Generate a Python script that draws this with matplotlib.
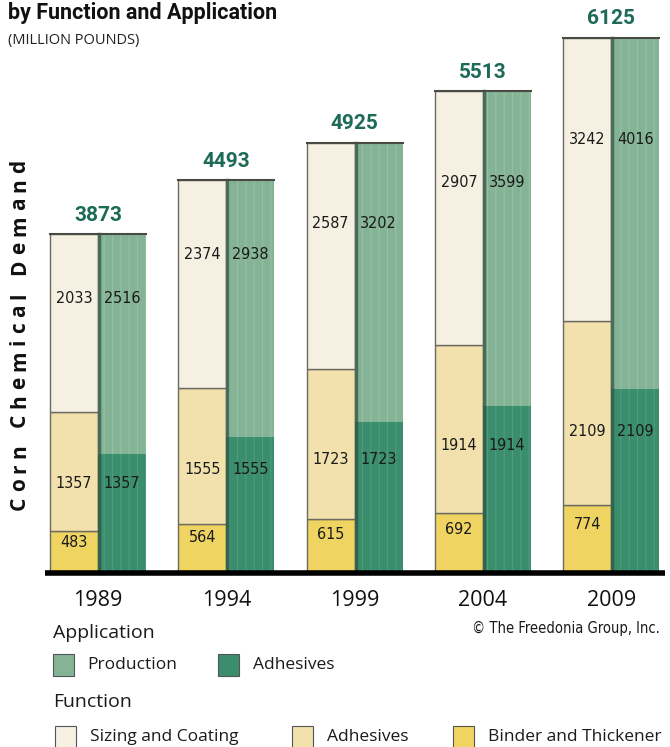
import matplotlib
matplotlib.use('Agg')
import matplotlib.pyplot as plt
from matplotlib.patches import Rectangle
import numpy as np

# datos (millones de libras)
years = ['1989', '1994', '1999', '2004', '2009']
totals = [3873, 4493, 4925, 5513, 6125]

# funcion (barra izquierda)
binder = [483, 564, 615, 692, 774]
fn_adhesives = [1357, 1555, 1723, 1914, 2109]
sizing = [2033, 2374, 2587, 2907, 3242]

# aplicacion (barra derecha)
app_adhesives = [1357, 1555, 1723, 1914, 2109]
production = [2516, 2938, 3202, 3599, 4016]

# colores
c_sizing = '#f5f0e1'
c_fn_adh = '#f2e1ad'
c_binder = '#efd462'
c_prod = '#84b395'
c_app_adh = '#3b8e6d'
c_total = '#1d6b57'

W, H = 670, 747
fig = plt.figure(figsize=(W / 100, H / 100), dpi=100)
fig.patch.set_facecolor('white')

# ejes en pixeles: izquierda 45, base 573, arriba 20
ax = fig.add_axes([45 / W, (H - 573) / H, 620 / W, 553 / H])
step = 128.3
ax.set_xlim(-53 / step, 567 / step)
ax.set_ylim(0, 6327)
ax.axis('off')

x = np.arange(len(years))
bw = 48 / step
xl = x - bw / 2
xr = x + bw / 2

# barras de funcion
edge = '#6b6a60'
ax.bar(xl, binder, bw, color=c_binder, edgecolor=edge, linewidth=1)
ax.bar(xl, fn_adhesives, bw, bottom=binder, color=c_fn_adh, edgecolor=edge, linewidth=1)
bot2 = np.array(binder) + np.array(fn_adhesives)
ax.bar(xl, sizing, bw, bottom=bot2, color=c_sizing, edgecolor=edge, linewidth=1)

# barras de aplicacion
ax.bar(xr, app_adhesives, bw, color=c_app_adh, linewidth=0)
ax.bar(xr, production, bw, bottom=app_adhesives, color=c_prod, linewidth=0)
# textura de rayas verticales
plt.rcParams['hatch.linewidth'] = 0.8
ax.bar(xr, app_adhesives, bw, color='none', edgecolor='#4f9c7c', hatch='||', linewidth=0)
ax.bar(xr, production, bw, bottom=app_adhesives, color='none', edgecolor='#95c0a4',
       hatch='||', linewidth=0)
# sombra a la izquierda de la barra verde y borde superior
for i in range(len(years)):
    ax.plot([xr[i] - bw / 2 + 0.008] * 2, [0, totals[i]], color='#2f4f40', lw=2.5, alpha=0.7)
    ax.plot([xl[i] - bw / 2, xr[i] + bw / 2], [totals[i]] * 2, color='#4a4a44', lw=1.5)

# etiquetas de valores
vfont = dict(family='DejaVu Sans', stretch='condensed', fontsize=11.5, color='#1a1a1a',
             ha='center', va='center')
for i in range(len(years)):
    ytop = totals[i] - 0.36 * sizing[i]
    ax.text(xl[i], ytop, str(sizing[i]), **vfont)
    ax.text(xr[i], ytop, str(production[i]), **vfont)
    ymid = binder[i] + 0.4 * fn_adhesives[i]
    ax.text(xl[i], ymid, str(fn_adhesives[i]), **vfont)
    ax.text(xr[i], ymid, str(app_adhesives[i]), **vfont)
    ax.text(xl[i], binder[i] * 0.72, str(binder[i]), **vfont)
    ax.text(x[i], totals[i] + 110, str(totals[i]), ha='center', va='bottom',
            fontsize=15, fontweight='bold', color=c_total, family='Roboto')
    ax.text(x[i], -200, years[i], ha='center', va='top', fontsize=15.5,
            color='#111111', family='Open Sans')

# linea base
ax.plot([-53 / step, 567 / step], [0, 0], color='black', lw=4, clip_on=False,
        solid_capstyle='butt')

# titulos
fig.text(8 / W, (H - 19) / H, 'by Function and Application', fontsize=15.5,
         fontweight='bold', family='Roboto', color='#111111', va='baseline')
fig.text(8 / W, (H - 44) / H, '(MILLION POUNDS)', fontsize=10.5,
         family='Open Sans', color='#222222', va='baseline')

# titulo vertical con espaciado entre letras
renderer = fig.canvas.get_renderer()
ylabel = 'Corn Chemical Demand'
yfont = dict(fontsize=15, fontweight='bold', family='Open Sans', color='#111111')
widths = []
for ch in ylabel:
    t = fig.text(0, 0, ch if ch != ' ' else 'n', **yfont)
    w = t.get_window_extent(renderer).width
    widths.append(w * 0.5 if ch == ' ' else w)
    t.remove()
span = 350.0
gap = (span - sum(widths)) / (len(ylabel) - 1)
pos = 510.0
for ch, w in zip(ylabel, widths):
    if ch != ' ':
        fig.text(25 / W, (H - pos) / H, ch, rotation=90, rotation_mode='anchor',
                 ha='left', va='baseline', **yfont)
    pos -= w + gap

# leyenda
lfont = dict(family='Open Sans', fontsize=12.5, color='#1a1a1a', va='center')

def swatch(x0, yc, color):
    fig.patches.append(Rectangle((x0 / W, (H - yc - 11) / H), 21 / W, 22 / H,
                                 transform=fig.transFigure, facecolor=color,
                                 edgecolor='#555555', linewidth=0.8))

fig.text(53 / W, (H - 633) / H, 'Application', fontsize=14, family='Open Sans',
         color='#1a1a1a', va='center')
swatch(53, 665, c_prod)
fig.text(87 / W, (H - 665) / H, 'Production', **lfont)
swatch(218, 665, c_app_adh)
fig.text(253 / W, (H - 665) / H, 'Adhesives', **lfont)

fig.text(53 / W, (H - 702) / H, 'Function', fontsize=14, family='Open Sans',
         color='#1a1a1a', va='center')
swatch(55, 737, c_sizing)
fig.text(90 / W, (H - 737) / H, 'Sizing and Coating', **lfont)
swatch(292, 737, c_fn_adh)
fig.text(327 / W, (H - 737) / H, 'Adhesives', **lfont)
swatch(453, 737, c_binder)
fig.text(488 / W, (H - 737) / H, 'Binder and Thickener', **lfont)

fig.text(660 / W, (H - 628) / H, '\u00a9 The Freedonia Group, Inc.', fontsize=10.5,
         family='DejaVu Sans', stretch='condensed', ha='right', va='center',
         color='#1a1a1a')

fig.savefig('out.png', dpi=100)
